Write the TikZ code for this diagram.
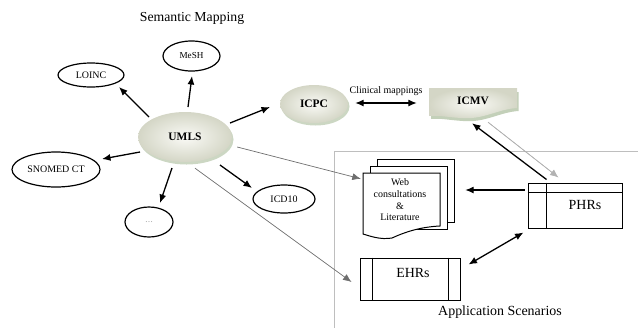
\documentclass[tikz,border=0pt]{standalone}
\usepackage{fontspec}
\setmainfont{Liberation Serif}
\usetikzlibrary{arrows.meta,shapes.geometric,shadows,calc}
\definecolor{shadeout}{RGB}{212,214,198}
\definecolor{shadein}{RGB}{250,250,246}
\definecolor{shadowc}{RGB}{170,188,155}
\definecolor{frameg}{RGB}{190,190,190}
\definecolor{thin}{RGB}{110,110,110}
\tikzset{
  ell/.style={ellipse, draw, line width=1.2pt, inner sep=0pt, font=\fontsize{10}{12}\selectfont},
  soft/.style={ellipse, inner sep=0pt, inner color=shadein, outer color=shadeout,
     drop shadow={shadow xshift=1.5bp, shadow yshift=-2.5bp, fill=shadowc, opacity=0.6},
     font=\bfseries\fontsize{11.5}{13}\selectfont},
  arr/.style={-{Latex[length=8.5bp,width=7bp]}, line width=1.3pt},
  dbl/.style={{Latex[length=8.5bp,width=7bp]}-{Latex[length=8.5bp,width=7bp]}, line width=1.3pt},
  garr/.style={-{Latex[length=8.5bp,width=7bp]}, line width=0.7pt, draw=thin},
  recbox/.style={draw, line width=1pt, inner sep=0pt},
  docline/.style={draw, line width=1pt, fill=white},
  big/.style={font=\fontsize{14}{16}\selectfont}
}
\begin{document}
\begin{tikzpicture}[x=1bp,y=-1bp]
\useasboundingbox (0,0) rectangle (638,328);

% Application scenarios frame
\draw[frameg, line width=0.8pt] (638,151) coordinate (fr1) -- (334,151) coordinate (fr2) -- (334,328) coordinate (fr3);

% title
\node[font=\fontsize{13.8}{16}\selectfont] (title) at (192,18) {Semantic Mapping};

% semantic nodes
\node[soft, minimum width=94bp, minimum height=50bp] (umls) at (185,137) {UMLS};
\node[soft, minimum width=68bp, minimum height=38bp] (icpc) at (314,104) {ICPC};
\node[ell, minimum width=66bp, minimum height=24bp] (loinc) at (91,75) {LOINC};
\node[ell, minimum width=57bp, minimum height=30bp, font=\fontsize{9.2}{11}\selectfont] (mesh) at (191.5,56) {MeSH};
\node[ell, minimum width=88bp, minimum height=35bp] (snomed) at (56,169.5) {SNOMED CT};
\node[ell, minimum width=62bp, minimum height=28bp] (icd) at (284,199) {ICD10};
\node[ell, minimum width=48bp, minimum height=30bp, text=gray, font=\fontsize{8}{10}\selectfont] (dots) at (149,222) {\dots};

% ICMV document shape
\fill[shadowc, opacity=0.7] (431,92) -- (518.5,92) -- (518.5,111) .. controls (500,112) and (485,123) .. (463,121) .. controls (448,120) and (440,118) .. (431,119) -- cycle;
\shade[inner color=shadein, outer color=shadeout] (429,88) -- (517,88) -- (517,108) .. controls (498,109) and (483,120) .. (461,118) .. controls (446,117) and (438,115) .. (429,116) -- cycle;
\node[inner sep=0pt, minimum width=88bp, minimum height=30bp, font=\bfseries\fontsize{11.4}{13}\selectfont] (icmv) at (473,101) {ICMV};

% Web consultations document stack
\path[docline] (377,159) rectangle (454,222);
\path[docline] (370,166) rectangle (447,229);
\path[docline] (363,173) -- (440,173) -- (440,226) .. controls (420,227) and (405,232) .. (392,238) .. controls (380,240) and (370,236) .. (363,234) -- cycle;
\node[inner sep=0pt, minimum width=77bp, minimum height=62bp] (web) at (401.5,204) {};
\node[align=center, font=\fontsize{10}{11.7}\selectfont] (webtxt) at (400,200) {Web\\consultations\\\&\\Literature};

% PHRs and EHRs
\node[recbox, minimum width=94bp, minimum height=45bp] (phr) at (575,205.5) {};
\draw[line width=1pt] ($(phr.north west)+(19,0)$) -- ($(phr.south west)+(19,0)$);
\draw[line width=1pt] ($(phr.north west)+(0,10)$) -- ($(phr.north east)+(0,10)$);
\node[big] (phrtxt) at (585,205) {PHRs};

\node[recbox, minimum width=100bp, minimum height=42bp] (ehr) at (410,279) {};
\draw[line width=1pt] ($(ehr.north west)+(13,0)$) -- ($(ehr.south west)+(13,0)$);
\draw[line width=1pt] ($(ehr.north east)+(-12,0)$) -- ($(ehr.south east)+(-12,0)$);
\node[big] (ehrtxt) at (413,273) {EHRs};

\node[big] (appl) at (500,312) {Application Scenarios};

% arrows from UMLS
\draw[arr] ($(umls)+(-36,-20)$) -- ($(loinc)+(28,12)$);
\draw[arr] ($(umls)+(3,-30)$) -- ($(mesh)+(0.5,20)$);
\draw[arr] ($(umls)+(-45,15)$) -- ($(snomed)+(46,-10.5)$);
\draw[arr] ($(umls)+(-13,31)$) -- ($(dots)+(11,-19)$);
\draw[arr] ($(umls)+(35,28)$) -- ($(icd)+(-32,-11)$);
\draw[arr] ($(umls)+(45,-14)$) -- ($(icpc)+(-44,3)$);

% grey links
\draw[garr] ($(umls.east)+(5,10)$) -- ($(web.north west)+(-2,6)$);
\draw[garr] ($(umls.south)+(10,6)$) -- ($(ehr.west)+(-8,3)$);

% clinical mappings
\draw[dbl] ($(icpc.east)+(7,-1)$) -- ($(icmv.west)+(-12,2)$) node[midway, above=3bp, font=\fontsize{10}{12}\selectfont] {Clinical mappings};

% ICMV <-> PHRs
\draw[arr] ($(phr.north west)+(19,-3)$) -- ($(icmv.south)+(-1,7)$);
\draw[-{Latex[length=8.5bp,width=7bp]}, line width=0.8pt, draw=gray!60, fill=black] ($(icmv.south)+(15,6)$) -- ($(phr.north west)+(31,-5)$);

% PHRs -> Web, EHRs <-> PHRs
\draw[arr] ($(phr.west)+(-3,-15.5)$) -- ($(web.east)+(25,-14)$);
\draw[dbl] ($(ehr.north east)+(8,7)$) -- ($(phr.south west)+(-4,4)$);
\end{tikzpicture}
\end{document}
